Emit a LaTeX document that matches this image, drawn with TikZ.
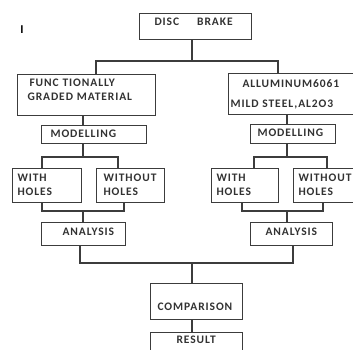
\documentclass[tikz,border=0pt]{standalone}
\usepackage{fontspec}
\usepackage{tikz}
\usetikzlibrary{positioning, calc}
\newfontfamily\boxfont[LetterSpace=8]{Carlito}
\definecolor{fcLine}{RGB}{60,60,60}
\definecolor{fcText}{RGB}{50,50,50}

\begin{document}
\begin{tikzpicture}[x=1pt, y=-1pt,
  box/.style={draw=fcLine, line width=1.1pt, anchor=north west, inner sep=0pt, align=left, text=fcText, font=\boxfont\bfseries\fontsize{11.5}{14}\selectfont},
  link/.style={draw=fcLine, line width=1.1pt}
]
  \useasboundingbox (0,0) rectangle (353,349);
  \clip (0,0) rectangle (353,349);

  \node[font=\boxfont\bfseries\fontsize{12}{14}\selectfont, text=black] (stray) at (22,30) {I};

  % top level
  \node[box, text width=112pt, text height=11.7pt, text depth=14.3pt] (disc) at (139,13) {\hspace*{15pt}DISC\hspace{18pt}BRAKE};
  \node[box, text width=138pt, text height=12.2pt, text depth=28.8pt] (fgm) at (17,74) {\hspace*{12pt}FUNC TIONALLY\\\hspace*{10pt}GRADED MATERIAL};
  \node[box, text width=132pt, text height=13.7pt, text depth=27.3pt] (alu) at (228,73) {\hspace*{14pt}ALLUMINUM6061\\[6pt]\hspace*{2pt}MILD STEEL,AL2O3};

  % modelling
  \node[box, text width=105pt, text height=11.7pt, text depth=6.3pt] (modl) at (41,125) {\hspace*{9pt}MODELLING};
  \node[box, text width=85pt, text height=11.7pt, text depth=7.3pt] (modr) at (250,124) {\hspace*{7pt}MODELLING};

  % holes
  \node[box, text width=69pt, text height=12.7pt, text depth=21.3pt] (withl) at (12,168) {\hspace*{5pt}WITH\\\hspace*{5pt}HOLES};
  \node[box, text width=68pt, text height=12.7pt, text depth=21.3pt] (wol) at (96,168) {\hspace*{7pt}WITHOUT\\\hspace*{7pt}HOLES};
  \node[box, text width=67pt, text height=12.7pt, text depth=21.3pt] (withr) at (211,168) {\hspace*{5pt}WITH\\\hspace*{5pt}HOLES};
  \node[box, text width=70pt, text height=12.7pt, text depth=21.3pt] (wor) at (293,168) {\hspace*{5pt}WITHOUT\\\hspace*{5pt}HOLES};

  % analysis
  \node[box, text width=84pt, text height=12.7pt, text depth=10.3pt] (anal) at (41,222) {\hspace*{21pt}ANALYSIS};
  \node[box, text width=82pt, text height=12.7pt, text depth=10.3pt] (anar) at (250,222) {\hspace*{15pt}ANALYSIS};

  % comparison and result
  \node[box, text width=92pt, text height=27.4pt, text depth=8.6pt] (comp) at (150,283) {\hspace*{7pt}COMPARISON};
  \node[box, text width=92pt, text height=10.7pt, text depth=19.3pt] (result) at (150,332) {\hspace*{26pt}RESULT};

  % junctions
  \coordinate (j1) at (192,61);
  \coordinate (j1l) at (96,61);
  \coordinate (j1r) at (278,61);
  \coordinate (cl) at (83,150);
  \coordinate (cr) at (287,150);
  \coordinate (j2l) at (42,157);
  \coordinate (j2r) at (118,157);
  \coordinate (j3l) at (254,157);
  \coordinate (j3r) at (327,157);
  \coordinate (j4l) at (42,211);
  \coordinate (j4r) at (124,211);
  \coordinate (j5l) at (242,211);
  \coordinate (j5r) at (323,211);
  \coordinate (j6l) at (80,263);
  \coordinate (j6r) at (293,263);
  \coordinate (j6) at (192,263);

  \draw[link] (j1 |- disc.south) -- (j1);
  \draw[link] (j1l |- fgm.north) -- (j1l) -- (j1r) -- (j1r |- alu.north);

  \draw[link] (cl |- fgm.south) -- (cl |- modl.north);
  \draw[link] (cr |- alu.south) -- (cr |- modr.north);

  \draw[link] (cl |- modl.south) -- (cl |- j2l);
  \draw[link] (j2l |- withl.north) -- (j2l) -- (j2r) -- (j2r |- wol.north);
  \draw[link] (cr |- modr.south) -- (cr |- j3l);
  \draw[link] (j3l |- withr.north) -- (j3l) -- (j3r) -- (j3r |- wor.north);

  \draw[link] (j4l |- withl.south) -- (j4l) -- (j4r) -- (j4r |- wol.south);
  \draw[link] (cl |- j4l) -- (cl |- anal.north);
  \draw[link] (j5l |- withr.south) -- (j5l) -- (j5r) -- (j5r |- wor.south);
  \draw[link] (cr |- j5l) -- (cr |- anar.north);

  \draw[link] (j6l |- anal.south) -- (j6l) -- (j6r) -- (j6r |- anar.south);
  \draw[link] (j6) -- (j6 |- comp.north);
  \draw[link] (j6 |- comp.south) -- (j6 |- result.north);
\end{tikzpicture}
\end{document}
